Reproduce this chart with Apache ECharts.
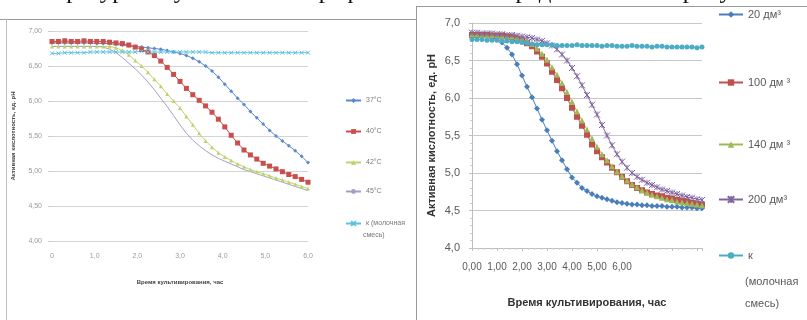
<!DOCTYPE html>
<html><head><meta charset="utf-8">
<script src="https://cdn.jsdelivr.net/npm/echarts@6/dist/echarts.min.js"></script>
<style>html,body{margin:0;padding:0;background:#fff}#c{width:807px;height:320px}</style>
</head><body><div id="c"></div>
<script>
// ---- Left chart: temperature ----
const leftHours = [0,0.15,0.3,0.45,0.6,0.75,0.9,1.05,1.2,1.35,1.5,1.65,1.8,1.95,2.1,2.25,2.4,2.55,2.7,2.85,3.0,3.15,3.3,3.45,3.6,3.75,3.9,4.05,4.2,4.35,4.5,4.65,4.8,4.95,5.1,5.25,5.4,5.55,5.7,5.85,6.0];
const t37 = [6.83,6.83,6.83,6.83,6.83,6.83,6.83,6.82,6.82,6.82,6.81,6.80,6.79,6.78,6.77,6.76,6.75,6.74,6.72,6.70,6.68,6.65,6.61,6.56,6.50,6.43,6.34,6.24,6.14,6.04,5.95,5.85,5.76,5.67,5.58,5.50,5.43,5.36,5.29,5.21,5.12];
const t40 = [6.85,6.85,6.86,6.85,6.85,6.86,6.85,6.85,6.85,6.84,6.83,6.82,6.80,6.77,6.74,6.70,6.65,6.57,6.48,6.38,6.28,6.18,6.09,6.01,5.93,5.84,5.74,5.63,5.51,5.40,5.30,5.23,5.17,5.11,5.07,5.03,4.99,4.95,4.92,4.88,4.84];
const t42 = [6.78,6.78,6.78,6.78,6.78,6.78,6.78,6.78,6.78,6.78,6.76,6.72,6.66,6.58,6.50,6.41,6.31,6.21,6.10,6.00,5.90,5.78,5.66,5.54,5.43,5.34,5.26,5.20,5.15,5.10,5.06,5.02,4.99,4.96,4.93,4.90,4.87,4.84,4.81,4.78,4.75];
const t45 = [6.78,6.78,6.78,6.78,6.78,6.78,6.78,6.78,6.77,6.74,6.69,6.62,6.54,6.46,6.37,6.27,6.16,6.04,5.92,5.79,5.66,5.54,5.44,5.36,5.29,5.23,5.18,5.14,5.10,5.06,5.02,4.99,4.96,4.93,4.90,4.87,4.84,4.81,4.78,4.75,4.72];
const tK = [6.68,6.68,6.69,6.69,6.69,6.69,6.70,6.70,6.70,6.70,6.70,6.70,6.70,6.70,6.71,6.70,6.70,6.70,6.70,6.70,6.70,6.70,6.70,6.70,6.70,6.69,6.69,6.69,6.69,6.69,6.69,6.69,6.69,6.69,6.69,6.69,6.69,6.69,6.69,6.69,6.69];
const leftNames = ['37°C','40°C','42°C','45°C','к (молочная смесь)'];

// ---- Right chart: volume ----
const rightHours = [0,0.2,0.4,0.6,0.8,1.0,1.2,1.4,1.6,1.8,2.0,2.2,2.4,2.6,2.8,3.0,3.2,3.4,3.6,3.8,4.0,4.2,4.4,4.6,4.8,5.0,5.2,5.4,5.6,5.8,6.0,6.2,6.4,6.6,6.8,7.0,7.2,7.4,7.6,7.8,8.0,8.2,8.4,8.6,8.8,9.0,9.2];
const d20 = [6.83,6.83,6.83,6.82,6.81,6.79,6.74,6.67,6.58,6.45,6.30,6.15,6.01,5.86,5.71,5.57,5.43,5.29,5.17,5.05,4.94,4.87,4.80,4.76,4.72,4.69,4.67,4.65,4.63,4.61,4.60,4.59,4.58,4.58,4.57,4.57,4.56,4.56,4.56,4.55,4.55,4.55,4.54,4.54,4.54,4.53,4.53];
const d100 = [6.84,6.84,6.84,6.84,6.83,6.83,6.83,6.82,6.81,6.79,6.77,6.73,6.69,6.62,6.55,6.46,6.35,6.24,6.13,6.00,5.87,5.75,5.63,5.51,5.38,5.29,5.21,5.14,5.07,5.01,4.95,4.89,4.84,4.80,4.77,4.74,4.72,4.70,4.69,4.67,4.66,4.64,4.63,4.62,4.60,4.59,4.58];
const d140 = [6.85,6.85,6.84,6.84,6.84,6.84,6.83,6.83,6.82,6.81,6.79,6.76,6.72,6.66,6.59,6.51,6.41,6.31,6.20,6.08,5.95,5.82,5.70,5.58,5.46,5.35,5.25,5.17,5.09,5.02,4.96,4.90,4.85,4.81,4.77,4.74,4.71,4.69,4.67,4.65,4.64,4.62,4.61,4.60,4.59,4.58,4.57];
const d200 = [6.87,6.87,6.86,6.86,6.86,6.85,6.85,6.84,6.84,6.83,6.82,6.81,6.80,6.78,6.76,6.73,6.70,6.65,6.58,6.50,6.40,6.29,6.17,6.04,5.91,5.78,5.64,5.50,5.37,5.25,5.15,5.07,5.00,4.95,4.91,4.87,4.84,4.81,4.78,4.76,4.74,4.72,4.70,4.68,4.67,4.65,4.64];
const dK = [6.78,6.78,6.78,6.77,6.77,6.77,6.76,6.76,6.75,6.75,6.74,6.73,6.72,6.71,6.71,6.71,6.71,6.70,6.70,6.70,6.70,6.71,6.70,6.70,6.70,6.70,6.69,6.70,6.70,6.69,6.69,6.69,6.70,6.69,6.69,6.69,6.68,6.69,6.69,6.68,6.68,6.68,6.68,6.68,6.68,6.67,6.68];
const rightNames = ['20 дм³','100 дм ³','140 дм ³','200 дм³','к\u00a0(молочная смесь)'];

const yTitle = 'Активная кислотность, ед. рН';
const xTitle = 'Время культивирования, час';
const headerText = 'температурных условиях на графике и объёма представлено на рисунке';

const pairs = (xs, ys) => xs.map((x, i) => [x, ys[i]]);
const FONT = '"Liberation Sans Narrow","Liberation Sans",Arial,sans-serif';
const XPATH = 'path://M0,0L10,10M10,0L0,10';
const STARPATH = 'path://M0,0L10,10M10,0L0,10M5,0L5,10';

const leftCol = ['#5a89cc','#c84f4c','#bcd46a','#a79ec8','#5cc2dd'];
const leftSym = ['diamond','rect','triangle','none',XPATH];
const leftSize = [4,5,4,0,4];
const leftData = [t37,t40,t42,t45,tK];
const rightCol = ['#4a7ebb','#c0504d','#9bbb59','#8064a2','#4bacc6'];
const rightSym = ['diamond','rect','triangle',STARPATH,'circle'];
const rightSize = [6,6,6,6,5];
const rightData = [d20,d100,d140,d200,dK];

const series = [];
leftNames.forEach((n, i) => series.push({
  name: n, type: 'line', xAxisIndex: 0, yAxisIndex: 0,
  data: pairs(leftHours, leftData[i]),
  symbol: leftSym[i], symbolSize: leftSize[i], showSymbol: leftSym[i] !== 'none',
  lineStyle: {color: leftCol[i], width: 1},
  itemStyle: {color: leftCol[i], borderColor: leftCol[i], borderWidth: leftSym[i] === XPATH ? 1 : 0},
  emphasis: {disabled: true}
}));
rightNames.forEach((n, i) => series.push({
  name: n, type: 'line', xAxisIndex: 1, yAxisIndex: 1,
  data: pairs(rightHours, rightData[i]),
  symbol: rightSym[i], symbolSize: rightSize[i],
  lineStyle: {color: rightCol[i], width: 1},
  itemStyle: {color: rightCol[i], borderColor: rightCol[i], borderWidth: rightSym[i] === STARPATH ? 1 : 0},
  emphasis: {disabled: true}
}));

const leftCenters = [102,133,164,193,225];
const rightCenters = [17,85,147,202,258];
const legends = [];
leftNames.forEach((n, i) => legends.push({
  data: [n], left: 345, top: leftCenters[i] - 5, padding: 0,
  itemWidth: 15, itemHeight: 6, itemGap: 3, selectedMode: false,
  formatter: nm => nm === 'к (молочная смесь)' ? 'к (молочная' : nm,
  textStyle: {fontSize: 7, color: '#777', fontFamily: FONT}
}));
rightNames.forEach((n, i) => legends.push({
  data: [n], left: 718, top: rightCenters[i] - 8, padding: 0,
  itemWidth: 24, itemHeight: 8, itemGap: 3, selectedMode: false,
  formatter: nm => nm.startsWith('к') ? 'к' : nm,
  textStyle: {fontSize: 11, color: '#595959', fontFamily: FONT}
}));

const option = {
  animation: false,
  backgroundColor: '#fff',
  grid: [
    {left: 52, right: 499, top: 31, bottom: 79},
    {left: 472, right: 105, top: 23, bottom: 72}
  ],
  xAxis: [
    {type: 'value', gridIndex: 0, min: 0, max: 6, interval: 1,
     name: xTitle, nameLocation: 'middle', nameGap: 38,
     nameTextStyle: {fontSize: 6, fontWeight: 'bold', color: '#444', fontFamily: FONT},
     axisLine: {show: false}, axisTick: {show: false}, splitLine: {show: false},
     axisLabel: {fontSize: 7, color: '#999', margin: 12, fontFamily: FONT,
       formatter: v => v === 0 ? '0' : v.toFixed(1).replace('.', ',')}},
    {type: 'value', gridIndex: 1, min: 0, max: 9.2, interval: 1,
     name: xTitle, nameLocation: 'middle', nameGap: 49,
     nameTextStyle: {fontSize: 11, fontWeight: 'bold', color: '#333', fontFamily: FONT},
     axisLine: {show: true, onZero: false, lineStyle: {color: '#bfbfbf'}},
     axisTick: {show: true, length: 3, lineStyle: {color: '#bfbfbf'}},
     minorTick: {show: true, splitNumber: 4, length: 2, lineStyle: {color: '#cfcfcf'}},
     splitLine: {show: false},
     axisLabel: {fontSize: 10, color: '#595959', margin: 14, fontFamily: FONT, showMaxLabel: false,
       formatter: v => v <= 6 ? v.toFixed(2).replace('.', ',') : ''}}
  ],
  yAxis: [
    {type: 'value', gridIndex: 0, min: 4, max: 7, interval: 0.5,
     name: yTitle, nameLocation: 'middle', nameGap: 36, nameRotate: 90,
     nameTextStyle: {fontSize: 6, fontWeight: 'bold', color: '#444', fontFamily: FONT},
     axisLine: {show: false}, axisTick: {show: true, length: 4, lineStyle: {color: '#ccc'}},
     splitLine: {lineStyle: {color: '#d4d4d4', width: 1}},
     axisLabel: {fontSize: 7, color: '#999', margin: 10, fontFamily: FONT,
       formatter: v => v.toFixed(2).replace('.', ',')}},
    {type: 'value', gridIndex: 1, min: 4, max: 7, interval: 0.5,
     name: yTitle, nameLocation: 'middle', nameGap: 35, nameRotate: 90,
     nameTextStyle: {fontSize: 11, fontWeight: 'bold', color: '#333', fontFamily: FONT},
     axisLine: {show: true, lineStyle: {color: '#bfbfbf'}},
     axisTick: {show: true, length: 3, lineStyle: {color: '#bfbfbf'}},
     minorTick: {show: true, splitNumber: 5, length: 2, lineStyle: {color: '#cfcfcf'}},
     splitLine: {lineStyle: {color: '#c8c8c8', width: 1}},
     axisLabel: {fontSize: 11, color: '#595959', margin: 12, fontFamily: FONT,
       formatter: v => v.toFixed(1).replace('.', ',')}}
  ],
  legend: legends,
  graphic: [
    {type: 'text', left: 4, top: -21, silent: true,
     style: {text: headerText, font: '25px "Liberation Serif", serif', fill: '#111'}},
    {type: 'line', silent: true, shape: {x1: 0, y1: 19.5, x2: 416, y2: 19.5}, style: {stroke: '#9a9a9a', lineWidth: 1}},
    {type: 'line', silent: true, shape: {x1: 6.5, y1: 19, x2: 6.5, y2: 320}, style: {stroke: '#c0c0c0', lineWidth: 1}},
    {type: 'rect', silent: true, shape: {x: 417, y: 7, width: 390, height: 10}, style: {fill: '#fff'}},
    {type: 'line', silent: true, shape: {x1: 416, y1: 6.5, x2: 807, y2: 6.5}, style: {stroke: '#9a9a9a', lineWidth: 1}},
    {type: 'line', silent: true, shape: {x1: 416.5, y1: 6, x2: 416.5, y2: 320}, style: {stroke: '#9a9a9a', lineWidth: 1}},
    {type: 'text', left: 363, top: 232, silent: true,
     style: {text: 'смесь)', font: '7px ' + FONT, fill: '#777'}},
    {type: 'text', left: 745, top: 271, silent: true,
     style: {text: '(молочная\nсмесь)', font: '11px ' + FONT, fill: '#595959', lineHeight: 22}}
  ],
  series: series
};
const chart = echarts.init(document.getElementById('c'), null, {renderer: 'canvas'});
chart.setOption(option);
</script>
</body></html>
